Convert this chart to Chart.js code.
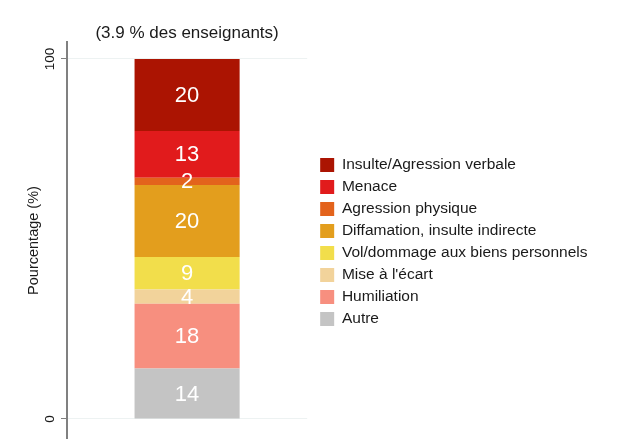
<!DOCTYPE html>
<html>
<head>
<meta charset="utf-8">
<script src="https://cdn.jsdelivr.net/npm/chart.js@4"></script>
<style>
  body { margin: 0; background: #fff; }
  #wrap { width: 626px; height: 439px; }
</style>
</head>
<body>
<div id="wrap"><canvas id="myChart" width="626" height="439"></canvas></div>
<script>
// data, bottom of the stack first
const categories = ["Enseignants"];
const labels = [
  "Autre",
  "Humiliation",
  "Mise à l'écart",
  "Vol/dommage aux biens personnels",
  "Diffamation, insulte indirecte",
  "Agression physique",
  "Menace",
  "Insulte/Agression verbale",
];
const values = [14, 18, 4, 9, 20, 2, 13, 20];
const colors = [
  "#c4c4c4",
  "#f78f7f",
  "#f2d39b",
  "#f2de4b",
  "#e39e1d",
  "#e3631c",
  "#e11b1c",
  "#ab1402",
];
const tickValues = [0, 100];

Chart.defaults.font.family = "'Liberation Sans', Arial, sans-serif";
Chart.defaults.color = "#1a1a1a";

// white numbers in the middle of each segment
const segmentLabels = {
  id: "segmentLabels",
  afterDatasetsDraw(chart) {
    const ctx = chart.ctx;
    ctx.save();
    ctx.fillStyle = "#ffffff";
    ctx.font = "22px 'Liberation Sans', Arial, sans-serif";
    ctx.textAlign = "center";
    ctx.textBaseline = "middle";
    chart.data.datasets.forEach((ds, i) => {
      const meta = chart.getDatasetMeta(i);
      meta.data.forEach((bar, j) => {
        const p = bar.getProps(["x", "y", "base"], true);
        ctx.fillText(String(ds.data[j]), p.x, (p.y + p.base) / 2 + 1);
      });
    });
    ctx.restore();
  },
};

// let the plot run past the bottom edge like the original
const noPad = (scale) => {
  scale.paddingTop = -1000;
  scale.paddingBottom = -1000;
};

const ctx = document.getElementById("myChart");

const newChart = new Chart(ctx, {
  type: "bar",
  data: {
    labels: categories,
    datasets: labels.map((l, i) => ({
      label: l,
      data: [values[i]],
      backgroundColor: colors[i],
      borderWidth: 0,
      barPercentage: 0.4375,
      categoryPercentage: 1,
    })),
  },
  options: {
    responsive: false,
    animation: false,
    layout: { padding: { top: 0, right: 28.5, bottom: -45, left: 0 } },
    plugins: {
      title: {
        display: true,
        text: "(3.9 % des enseignants)",
        fullSize: false,
        color: "#1a1a1a",
        font: { size: 17, weight: "normal", lineHeight: 1 },
        padding: { top: 24.5, bottom: 0.5 },
      },
      legend: {
        position: "right",
        reverse: true,
        maxWidth: 320,
        labels: {
          boxWidth: 14,
          boxHeight: 14,
          padding: 6.5,
          color: "#1a1a1a",
          font: { size: 15.5 },
        },
      },
      tooltip: { enabled: false },
    },
    scales: {
      x: { stacked: true, display: false, afterFit: noPad },
      y: {
        stacked: true,
        min: -5.56,
        max: 104.72,
        afterBuildTicks: (scale) => {
          scale.ticks = tickValues.map((v) => ({ value: v }));
        },
        afterFit: (scale) => {
          scale.width = 67;
          noPad(scale);
        },
        border: { color: "#808080", width: 2 },
        grid: {
          color: "#edf2f2",
          tickColor: "#808080",
          tickLength: 6,
          lineWidth: 1,
        },
        ticks: {
          minRotation: 90,
          maxRotation: 90,
          crossAlign: "center",
          padding: -1,
          color: "#1a1a1a",
          font: { size: 13.5 },
        },
        title: {
          display: true,
          text: "Pourcentage (%)",
          color: "#1a1a1a",
          font: { size: 14.5 },
          padding: { top: 25, bottom: 0 },
        },
      },
      // spacer between the plot and the legend
      y2: {
        position: "right",
        display: true,
        grid: { display: false },
        border: { display: false },
        ticks: { display: false },
        afterFit: (scale) => {
          scale.width = 6.5;
          noPad(scale);
        },
      },
    },
  },
  plugins: [segmentLabels],
});
</script>
</body>
</html>
